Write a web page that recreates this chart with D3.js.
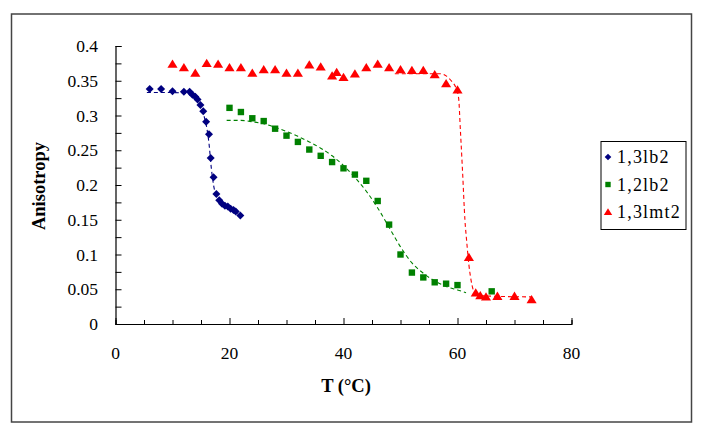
<!DOCTYPE html>
<html><head><meta charset="utf-8">
<script src="https://cdn.jsdelivr.net/npm/d3@7"></script>
<style>
html,body{margin:0;padding:0;background:#fff;}
</style></head>
<body><svg id="c" width="705" height="432"></svg>
<script>
// ---- data ----
const seriesNames = ["1,3lb2", "1,2lb2", "1,3lmt2"];
const s1x = [6, 8, 10, 12, 13, 13.5, 14, 14.4, 14.9, 15.4, 15.9, 16.4, 16.7, 17.2, 17.7, 18.2, 18.7, 19.2, 19.7, 20.2, 20.7, 21.1, 21.9];
const s1y = [0.338, 0.338, 0.335, 0.334, 0.334, 0.330, 0.327, 0.323, 0.315, 0.306, 0.291, 0.273, 0.239, 0.211, 0.187, 0.178, 0.173, 0.170, 0.169, 0.166, 0.164, 0.162, 0.156];
const s2x = [20, 22, 24, 26, 28, 30, 32, 34, 36, 38, 40, 42, 44, 46, 48, 50, 52, 54, 56, 58, 60, 66];
const s2y = [0.311, 0.305, 0.296, 0.292, 0.281, 0.271, 0.262, 0.251, 0.242, 0.233, 0.224, 0.215, 0.206, 0.177, 0.143, 0.100, 0.074, 0.067, 0.060, 0.058, 0.056, 0.047];
const s3x = [10, 12, 14, 16, 18, 20, 22, 24, 26, 28, 30, 32, 34, 36, 38, 38.8, 40, 42, 44, 46, 48, 50, 52, 54, 56, 58, 60, 62, 63.2, 64, 65, 67, 70, 73];
const s3y = [0.374, 0.369, 0.361, 0.375, 0.374, 0.369, 0.369, 0.361, 0.366, 0.366, 0.361, 0.361, 0.373, 0.370, 0.357, 0.362, 0.355, 0.360, 0.369, 0.374, 0.369, 0.366, 0.365, 0.365, 0.359, 0.346, 0.337, 0.096, 0.045, 0.041, 0.039, 0.040, 0.040, 0.035];
// fitted (dashed) curves
const f1x = [5.5, 8, 10, 12, 13, 14, 14.8, 15.5, 16, 16.4, 16.8, 17.2, 17.6, 18.2, 19, 20, 21, 21.8];
const f1y = [0.333, 0.333, 0.333, 0.332, 0.330, 0.325, 0.315, 0.300, 0.283, 0.260, 0.225, 0.200, 0.186, 0.177, 0.171, 0.166, 0.161, 0.157];
const f2x = [19.5, 22, 24, 26, 28, 30, 32, 34, 36, 38, 40, 42, 44, 46, 48, 50, 52, 54, 56, 58, 60, 61.5];
const f2y = [0.293, 0.293, 0.291, 0.288, 0.283, 0.277, 0.270, 0.262, 0.253, 0.242, 0.228, 0.211, 0.191, 0.167, 0.139, 0.111, 0.088, 0.073, 0.062, 0.054, 0.049, 0.045];
const f3x = [49, 57.2, 58, 59, 59.8, 60.2, 60.5, 60.9, 61.3, 61.6, 62, 62.4, 63, 64, 66, 73];
const f3y = [0.360, 0.360, 0.357, 0.349, 0.338, 0.325, 0.280, 0.217, 0.150, 0.120, 0.085, 0.062, 0.045, 0.041, 0.040, 0.039];
const xTickLabels = [0, 20, 40, 60, 80];
const yTickLabels = [0, 0.05, 0.1, 0.15, 0.2, 0.25, 0.3, 0.35, 0.4];
const colors = ["#000080", "#008000", "#ff0000"];
const xTitle = "T (°C)";
const yTitle = "Anisotropy";
const FONT = "Liberation Serif";

const svg = d3.select("#c");
// outer frame
svg.append("rect").attr("x", 11.5).attr("y", 14).attr("width", 680).attr("height", 408)
  .attr("fill", "#fff").attr("stroke", "#444").attr("stroke-width", 1.5);

const x = d3.scaleLinear().domain([0, 80]).range([115.5, 571.5]);
const y = d3.scaleLinear().domain([0, 0.4]).range([324, 46]);

// axes
const gx = svg.append("g").attr("transform", `translate(0,${y(0)})`);
gx.call(d3.axisBottom(x).tickValues(d3.range(0, 81, 5)).tickSize(-4).tickFormat(""));
gx.selectAll(".tick line").attr("y2", d => d % 20 === 0 ? -6 : -4);
const gy = svg.append("g").attr("transform", `translate(${x(0)},0)`);
gy.call(d3.axisLeft(y).tickValues(d3.range(0, 0.4001, 0.025)).tickSize(-6).tickFormat(""));
[gx, gy].forEach(g => {
  g.select(".domain").attr("stroke", "#000").attr("stroke-width", 1.2);
  g.selectAll(".tick line").attr("stroke", "#000").attr("stroke-width", 1);
});

// tick labels
svg.append("g").selectAll("text").data(xTickLabels).join("text")
  .attr("x", d => x(d)).attr("y", 359).attr("text-anchor", "middle")
  .style("font-family", FONT).style("font-size", "17.5px").text(d => d);
svg.append("g").selectAll("text").data(yTickLabels).join("text")
  .attr("x", 98).attr("y", d => y(d)).attr("dy", "0.35em").attr("text-anchor", "end")
  .style("font-family", FONT).style("font-size", "17.5px").text(d => d);

// titles
svg.append("text").attr("x", 346).attr("y", 392).attr("text-anchor", "middle")
  .style("font-family", FONT).style("font-size", "18.5px").style("font-weight", "bold").text(xTitle);
svg.append("text").attr("transform", "translate(45,186) rotate(-90)").attr("text-anchor", "middle")
  .style("font-family", FONT).style("font-size", "18.5px").style("font-weight", "bold").text(yTitle);

// fits
const line = d3.line().x(d => x(d[0])).y(d => y(d[1])).curve(d3.curveMonotoneX);
const fits = [[f1x, f1y], [f2x, f2y], [f3x, f3y]];
fits.forEach((f, i) => {
  svg.append("path").datum(f[0].map((v, k) => [v, f[1][k]]))
    .attr("d", line).attr("fill", "none").attr("stroke", colors[i])
    .attr("stroke-width", 1.1).attr("stroke-dasharray", "4,3");
});

// marker shapes
function diamond(r) { return `M0,${-r}L${r},0L0,${r}L${-r},0Z`; }
function square(r) { return `M${-r},${-r}H${r}V${r}H${-r}Z`; }
function triangle(r) { return `M0,${-r}L${r * 1.1},${r * 0.8}L${-r * 1.1},${r * 0.8}Z`; }
const shapes = [d => diamond(4), d => square(3.2), d => triangle(4.6)];
const pts = [[s1x, s1y], [s2x, s2y], [s3x, s3y]];
pts.forEach((p, i) => {
  svg.append("g").selectAll("path").data(p[0].map((v, k) => [v, p[1][k]])).join("path")
    .attr("transform", d => `translate(${x(d[0])},${y(d[1])})`)
    .attr("d", shapes[i]).attr("fill", colors[i]);
});

// legend
const lg = svg.append("g");
lg.append("rect").attr("x", 601).attr("y", 141.5).attr("width", 85).attr("height", 88)
  .attr("fill", "#fff").attr("stroke", "#000").attr("stroke-width", 1);
const legShapes = [diamond(3.3), square(2.7), triangle(3.8)];
seriesNames.forEach((n, i) => {
  const cy = 157 + i * 27.5;
  lg.append("path").attr("transform", `translate(608,${cy})`).attr("d", legShapes[i]).attr("fill", colors[i]);
  lg.append("text").attr("x", 617).attr("y", cy).attr("dy", "0.35em")
    .style("font-family", FONT).style("font-size", "18px").style("letter-spacing", "1.2px").text(n);
});
</script></body></html>
